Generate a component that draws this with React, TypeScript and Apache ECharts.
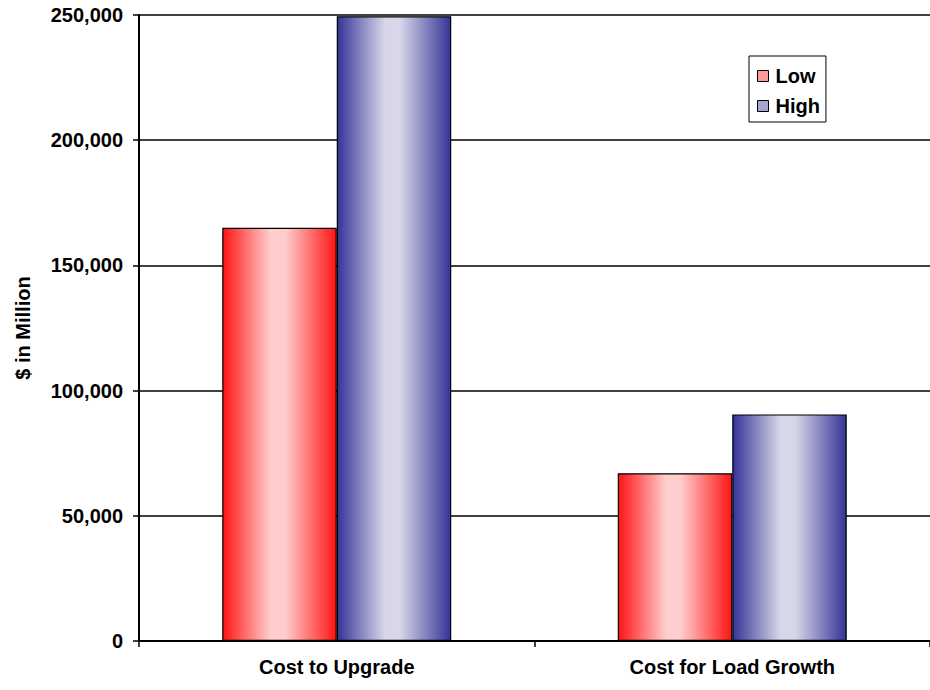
import React, { useEffect, useRef } from "react";
import * as echarts from "echarts";

const categories = ["Cost to Upgrade", "Cost for Load Growth"];
const lowValues = [165000, 67000];
const highValues = [249500, 90500];
const seriesNames = ["Low", "High"];
const yTicks = { min: 0, max: 250000, interval: 50000 };

const FONT = "'Liberation Sans', Arial, sans-serif";

function grad(edge: string, mid: string) {
  return new echarts.graphic.LinearGradient(0, 0, 1, 0, [
    { offset: 0, color: edge },
    { offset: 0.42, color: mid },
    { offset: 0.55, color: mid },
    { offset: 1, color: edge },
  ]);
}

export default function App() {
  const ref = useRef<HTMLDivElement>(null);
  useEffect(() => {
    if (!ref.current) return;
    const chart = echarts.init(ref.current, undefined, { renderer: "svg" });
    const redFill = grad("#ff1414", "#ffcdcd");
    const blueFill = grad("#343497", "#d7d7e9");
    chart.setOption({
      animation: false,
      backgroundColor: "#ffffff",
      textStyle: { fontFamily: FONT },
      grid: { left: 139, top: 15, right: -7, bottom: 49, containLabel: false },
      legend: {
        orient: "vertical",
        left: 749,
        top: 56,
        padding: [10, 6, 6, 8],
        itemGap: 10,
        itemWidth: 11,
        itemHeight: 11,
        borderColor: "#000",
        borderWidth: 1,
        textStyle: { fontFamily: FONT, fontWeight: "bold", fontSize: 20, color: "#000", padding: [0, 0, 0, 2] },
        data: [
          { name: seriesNames[0], icon: "rect", itemStyle: { color: "#ff9a9a", borderColor: "#000", borderWidth: 1 } },
          { name: seriesNames[1], icon: "rect", itemStyle: { color: "#a5a5d0", borderColor: "#000", borderWidth: 1 } },
        ],
      },
      xAxis: {
        type: "category",
        data: categories,
        axisLine: { show: true, lineStyle: { color: "#000", width: 2 } },
        axisTick: { show: true, length: 6, interval: 0, lineStyle: { color: "#000", width: 1.5 } },
        axisLabel: { margin: 16, fontFamily: FONT, fontWeight: "bold", fontSize: 20, color: "#000", interval: 0 },
        splitLine: { show: false },
      },
      yAxis: {
        type: "value",
        min: yTicks.min,
        max: yTicks.max,
        interval: yTicks.interval,
        name: "$ in Million",
        nameLocation: "middle",
        nameRotate: 90,
        nameGap: 106,
        nameTextStyle: { fontFamily: FONT, fontWeight: "bold", fontSize: 20, color: "#000" },
        axisLine: { show: true, lineStyle: { color: "#000", width: 2 } },
        axisTick: { show: true, length: 6, lineStyle: { color: "#000", width: 1.5 } },
        axisLabel: {
          margin: 16,
          fontFamily: FONT,
          fontWeight: "bold",
          fontSize: 20,
          color: "#000",
          formatter: (v: number) => v.toLocaleString("en-US"),
        },
        splitLine: { show: true, lineStyle: { color: "#000", width: 1.5 } },
      },
      series: [
        {
          name: seriesNames[0],
          type: "bar",
          data: lowValues,
          barWidth: 114.5,
          barGap: "0%",
          itemStyle: { color: redFill, borderColor: "#000", borderWidth: 1.2 },
        },
        {
          name: seriesNames[1],
          type: "bar",
          data: highValues,
          barWidth: 114.5,
          barGap: "0%",
          itemStyle: { color: blueFill, borderColor: "#000", borderWidth: 1.2 },
        },
      ],
    });
    return () => chart.dispose();
  }, []);
  return (
    <div
      ref={ref}
      style={{ position: "fixed", left: 0, top: 0, width: 930, height: 690, background: "#fff" }}
    />
  );
}
